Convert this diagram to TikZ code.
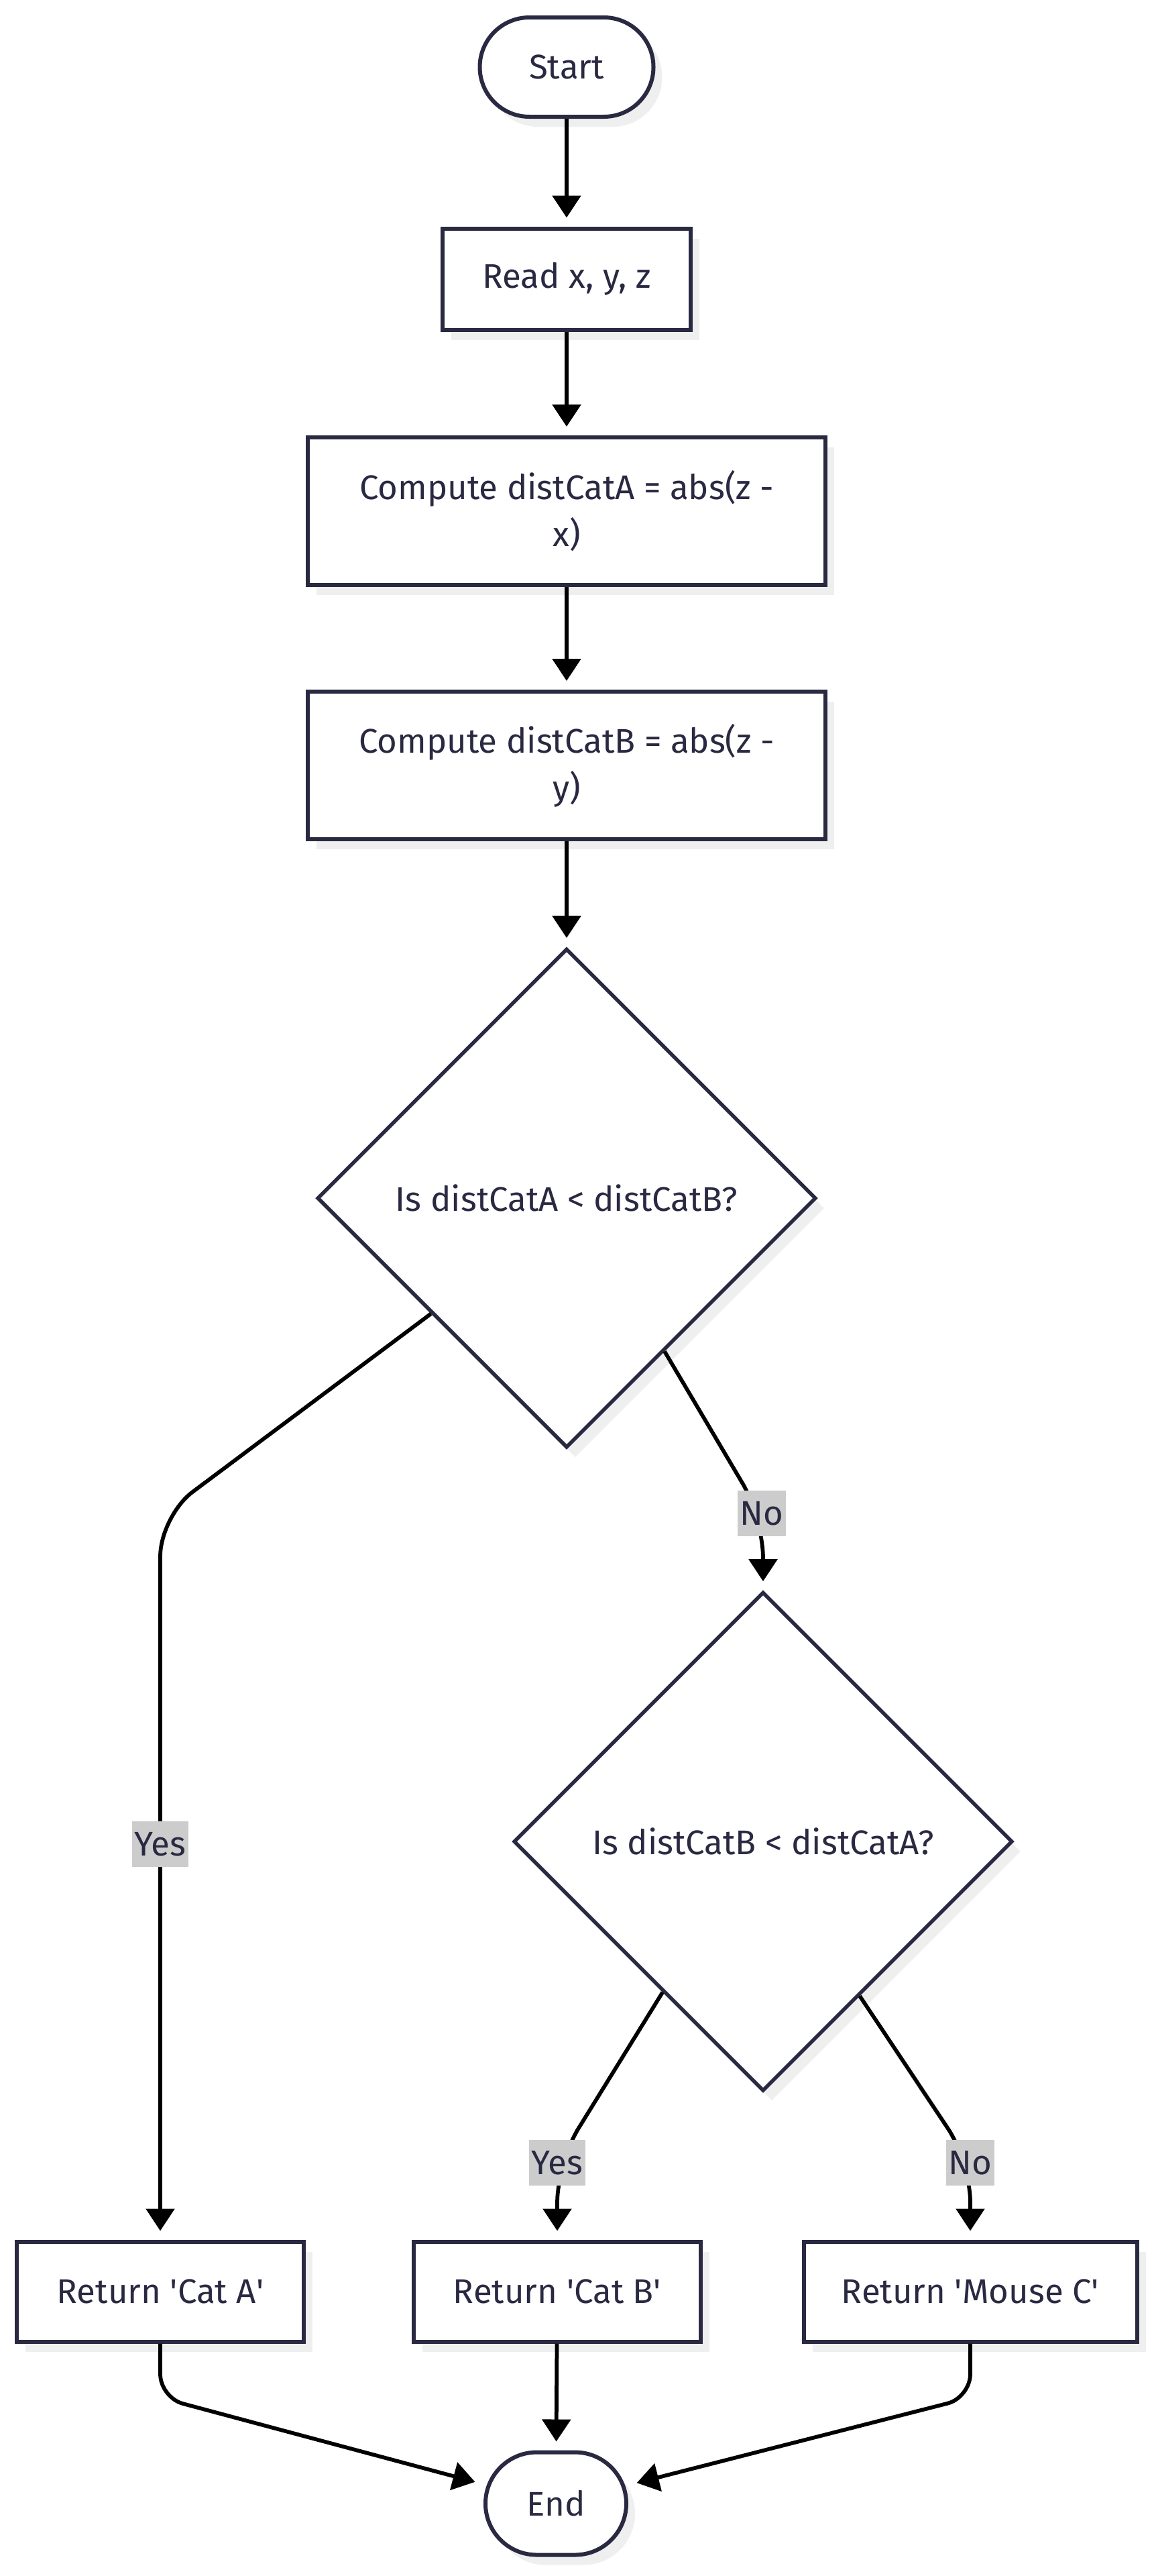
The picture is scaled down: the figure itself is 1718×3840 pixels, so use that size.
\documentclass[tikz,border=0pt]{standalone}
\usepackage{fontspec}
\setmainfont{Fira Sans}
\usetikzlibrary{shapes.geometric,arrows.meta,shadows,calc}
\definecolor{ink}{RGB}{42,41,66}
\definecolor{shade}{RGB}{239,239,239}
\definecolor{lbl}{RGB}{204,204,204}
\begin{document}
\begin{tikzpicture}[x=0.2pt,y=-0.2pt,
  txt/.style={text=ink, font=\fontsize{10.2pt}{14pt}\selectfont},
  shad/.style={drop shadow={shadow xshift=2.6pt, shadow yshift=-3pt, fill=shade, opacity=1}},
  proc/.style={txt, shad, draw=ink, line width=1.2pt, fill=white, align=center, inner sep=0pt, minimum height=#1},
  proc/.default=30pt,
  term/.style={proc=#1, rounded corners=0.5*#1},
  decide/.style={txt, shad, draw=ink, line width=1.1pt, fill=white, diamond, shape aspect=1, inner sep=0pt, minimum width=148.8pt, minimum height=148.8pt},
  flow/.style={draw=black, line width=1.15pt, -{Triangle[width=8.4pt,length=6.6pt]}, shorten >=2.6pt},
  lab/.style={txt, fill=lbl, inner xsep=0.8pt, inner ysep=0pt, minimum height=13.6pt}
]
\useasboundingbox[fill=white] (0,0) rectangle (1718,3840);

\node[term=29.6pt, minimum width=51.8pt] (start) at (845,100) {Start};
\node[proc=30.2pt, minimum width=74pt] (read) at (845,416) {Read x, y, z};
\node[proc=44pt, minimum width=154.2pt] (ca) at (845,762) {Compute distCatA = abs(z -\\x)};
\node[proc=44pt, minimum width=154.2pt] (cb) at (845,1141) {Compute distCatB = abs(z -\\y)};
\node[decide] (d1) at (845,1786) {Is distCatA < distCatB?};
\node[decide] (d2) at (1138,2745) {Is distCatB < distCatA?};
\node[proc=29.8pt, minimum width=85.6pt] (ra) at (239,3416) {Return \textquotesingle Cat A\textquotesingle};
\node[proc=29.8pt, minimum width=85.6pt] (rb) at (831,3416) {Return \textquotesingle Cat B\textquotesingle};
\node[proc=29.8pt, minimum width=99.4pt] (rc) at (1447,3416) {Return \textquotesingle Mouse C\textquotesingle};
\node[term=30.6pt, minimum width=42pt] (end) at (829,3732) {End};

\draw[flow] (start) -- (read);
\draw[flow] (read) -- (ca);
\draw[flow] (ca) -- (cb);
\draw[flow] (cb) -- (d1);
\draw[flow, rounded corners=12pt] ($(d1.west)!0.46!(d1.south)$) -- (ra.north |- 0,2260) -- (ra);
\draw[flow, rounded corners=12pt] ($(d1.south)!0.39!(d1.east)$) -- (d2.north |- 0,2263) -- (d2);
\draw[flow, rounded corners=12pt] ($(d2.west)!0.6!(d2.south)$) -- (rb.north |- 0,3224) -- (rb);
\draw[flow, rounded corners=12pt] ($(d2.south)!0.385!(d2.east)$) -- (rc.north |- 0,3223) -- (rc);
\draw[flow, rounded corners=7pt] (ra.south) -- (ra.south |- 0,3574) -- (end);
\draw[flow] (rb) -- (end);
\draw[flow, rounded corners=7pt] (rc.south) -- (rc.south |- 0,3574) -- (end);

\node[lab] (ly1) at (239,2749) {Yes};
\node[lab] (ln1) at (1136,2256) {No};
\node[lab] (ly2) at (831,3224) {Yes};
\node[lab] (ln2) at (1447,3224) {No};
\end{tikzpicture}
\end{document}
